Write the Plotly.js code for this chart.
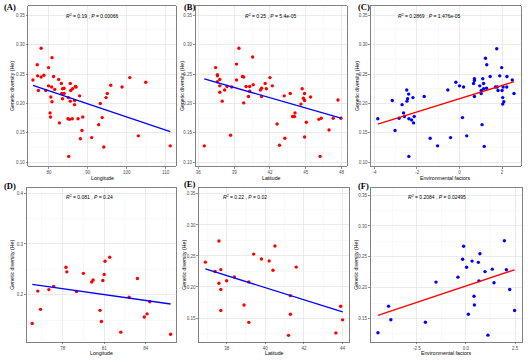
<!DOCTYPE html>
<html><head><meta charset="utf-8">
<script src="https://cdn.plot.ly/plotly-3.0.1.min.js"></script>
<style>html,body{margin:0;padding:0;background:#fff}#chart{width:532px;height:362px}</style>
</head><body><div id="chart"></div>
<script>
// ---- Panel A: Longitude vs He ----
var lonA = [75.9,77.0,77.1,77.3,78.0,78.0,78.7,79.2,79.9,79.9,80.3,80.4,80.8,80.7,80.5,80.8,81.2,81.5,82.5,82.7,83.2,83.3,83.5,83.9,83.5,83.9,84.9,85.1,85.3,85.5,85.6,85.5,85.0,86.1,86.0,86.8,87.0,86.6,86.6,87.5,87.9,88.1,88.5,88.7,91.0,94.1,92.8,93.2,93.7,94.7,95.0,95.9,98.8,100.8,103.0,104.9,111.2];
var heA  = [0.240,0.266,0.247,0.222,0.294,0.245,0.248,0.222,0.261,0.230,0.184,0.177,0.278,0.228,0.211,0.203,0.246,0.224,0.241,0.167,0.234,0.217,0.225,0.226,0.208,0.217,0.174,0.110,0.173,0.234,0.222,0.204,0.210,0.225,0.174,0.229,0.228,0.205,0.198,0.174,0.213,0.140,0.154,0.177,0.142,0.126,0.164,0.200,0.176,0.210,0.217,0.231,0.228,0.244,0.145,0.236,0.128];
var fitA_x = [75.9, 111.2], fitA_y = [0.231, 0.152];

// ---- Panel B: Latitude vs He ----
var latB = [36.5,37.45,37.6,37.6,37.6,37.8,37.8,37.8,38.0,38.2,38.4,38.7,38.8,39.2,39.2,39.4,39.7,39.8,39.8,40.0,40.2,40.3,40.3,40.55,40.6,41.2,41.3,41.3,41.6,41.7,42.0,42.2,42.6,42.8,43.2,43.25,43.7,43.9,44.0,44.1,44.05,44.6,44.7,44.8,44.9,44.9,44.9,45.05,45.4,46.1,46.3,46.2,46.95,47.3,47.7,47.95];
var heB  = [0.128,0.261,0.249,0.247,0.237,0.241,0.230,0.219,0.204,0.223,0.229,0.146,0.228,0.267,0.240,0.294,0.246,0.245,0.201,0.229,0.212,0.221,0.229,0.279,0.232,0.223,0.212,0.226,0.234,0.225,0.244,0.230,0.165,0.129,0.213,0.141,0.217,0.178,0.178,0.184,0.178,0.199,0.225,0.209,0.143,0.217,0.205,0.168,0.211,0.173,0.175,0.110,0.155,0.175,0.206,0.175];
var fitB_x = [36.5, 47.95], fitB_y = [0.242, 0.175];

// ---- Panel C: Environmental factors vs He ----
var envC = [-3.84,-3.16,-3.03,-2.84,-2.70,-2.63,-2.59,-2.48,-2.47,-2.44,-2.39,-2.38,-2.38,-2.25,-2.19,-2.16,-2.13,-1.66,-1.38,-1.03,-0.55,-0.42,-0.17,0.0,0.14,0.19,0.34,0.66,0.70,0.70,0.70,0.95,1.02,1.02,1.06,1.09,1.13,1.13,1.16,1.22,1.27,1.28,1.44,1.69,1.75,1.77,1.81,1.89,1.98,2.0,2.03,2.03,2.08,2.05,2.23,2.22,2.48,2.56];
var heC  = [0.174,0.205,0.154,0.175,0.198,0.184,0.178,0.223,0.204,0.208,0.216,0.174,0.110,0.172,0.210,0.167,0.178,0.212,0.141,0.128,0.223,0.142,0.236,0.230,0.176,0.228,0.145,0.234,0.242,0.239,0.212,0.230,0.217,0.222,0.164,0.242,0.225,0.234,0.127,0.277,0.226,0.266,0.246,0.228,0.293,0.228,0.222,0.247,0.261,0.222,0.210,0.199,0.203,0.228,0.246,0.228,0.240,0.217];
var fitC_x = [-3.84, 2.56], fitC_y = [0.165, 0.237];

// ---- Panel D: Longitude vs He ----
var lonD = [75.8,76.2,76.4,77.0,77.35,78.24,78.3,79.0,79.5,80.1,80.2,80.7,80.8,80.9,81.0,81.06,81.4,82.2,82.8,83.4,83.9,84.1,84.3,85.8];
var heD  = [0.143,0.207,0.171,0.210,0.216,0.254,0.245,0.206,0.242,0.225,0.229,0.169,0.147,0.228,0.240,0.266,0.274,0.126,0.195,0.232,0.156,0.162,0.186,0.122];
var fitD_x = [75.8, 85.8], fitD_y = [0.2204, 0.1816];

// ---- Panel E: Latitude vs He ----
var latE = [36.9,37.4,37.6,37.6,37.7,37.7,37.7,38.0,38.4,38.9,39.15,39.15,39.4,39.8,40.2,40.4,40.5,41.2,41.3,41.3,41.6,43.65,43.9,44.0];
var heE  = [0.240,0.225,0.274,0.206,0.228,0.196,0.162,0.210,0.216,0.171,0.208,0.143,0.253,0.245,0.242,0.227,0.266,0.122,0.186,0.156,0.232,0.126,0.169,0.147];
var fitE_x = [36.9, 44.0], fitE_y = [0.229, 0.160];

// ---- Panel F: Environmental factors vs He ----
var envF = [-4.49,-3.95,-3.83,-2.07,-1.53,-0.41,-0.17,-0.12,0.03,0.12,0.31,0.41,0.43,0.63,0.66,0.71,0.97,1.12,1.34,1.43,1.96,2.06,2.23,2.48];
var heF  = [0.127,0.170,0.148,0.144,0.209,0.217,0.246,0.267,0.233,0.157,0.243,0.186,0.172,0.241,0.211,0.255,0.226,0.123,0.230,0.208,0.276,0.229,0.197,0.163];
var fitF_x = [-4.49, 2.48], fitF_y = [0.155, 0.229];

// ---- tick labels ----
var yTickTop = ['0.10','0.15','0.20','0.25','0.30','0.35'];
var yTickD   = ['0.2','0.3','0.4'];
var yTickEF  = ['0.15','0.20','0.25','0.30','0.35'];
var xTickA = ['80','90','100','110'];
var xTickB = ['36','39','42','45','48'];
var xTickC = ['-4','-2','0','2'];
var xTickD = ['78','81','84'];
var xTickE = ['38','40','42','44'];
var xTickF = ['-2.5','0.0','2.5'];

var stats = [
  ['0.19','0.00066'], ['0.25','5.4e-05'], ['0.2869','1.476e-05'],
  ['0.081','0.24'], ['0.22','0.02'], ['0.2084','0.02495']
];
var panelLabels = ['(A)','(B)','(C)','(D)','(E)','(F)'];
var xTitles = ['Longitude','Latitude','Environmental factors','Longitude','Latitude','Environmental factors'];
var yTitle = 'Genetic diversity (He)';

var W = 532, H = 362;
function px(x){return x/W;}
function py(y){return 1 - y/H;}

// panel boxes in pixels [left, right, top, bottom]
var boxes = [
  [28.3,175.7,6,166],[195.7,346.7,6,166],[371,520.7,6,166],
  [26.7,176,187.7,341.7],[199,349,187.7,341.7],[370.7,522,187.7,341.7]
];
var xr = [[74.7,112.6],[35.78,48.43],[-4.16,2.875],[75.4,86.19],[36.57,44.33],[-4.86,2.857]];
var yr = [[0.0937,0.3658],[0.0937,0.3658],[0.0937,0.3658],[0.1072,0.411],[0.1118,0.360],[0.1124,0.362]];
var xtv = [xTickA,xTickB,xTickC,xTickD,xTickE,xTickF];
var ytv = [yTickTop,yTickTop,yTickTop,yTickD,yTickEF,yTickEF];
var xminor = [[5,75],[1.5,34.5],[1,-5],[1.5,73.5],[1,35],[1.25,-6.25]];
var yminor = [[0.025,0.075],[0.025,0.075],[0.025,0.075],[0.05,0.05],[0.025,0.075],[0.025,0.075]];
var statX = [92, 270, 429, 89, 245, 437];

var xs = [lonA,latB,envC,lonD,latE,envF];
var ys = [heA,heB,heC,heD,heE,heF];
var fx = [fitA_x,fitB_x,fitC_x,fitD_x,fitE_x,fitF_x];
var fy = [fitA_y,fitB_y,fitC_y,fitD_y,fitE_y,fitF_y];
var ptCol = ['#ff0000','#ff0000','#0000ff','#ff0000','#ff0000','#0000ff'];
var lnCol = ['#0000ff','#0000ff','#ff0000','#0000ff','#0000ff','#ff0000'];

var data = [], annotations = [];
var layout = {
  width: W, height: H, margin:{l:0,r:0,t:0,b:0},
  paper_bgcolor:'#fff', plot_bgcolor:'#fff', showlegend:false,
  font:{family:'Liberation Sans, Arial, sans-serif', color:'#000'}
};
var labelY = [[7.5,7.5,7.5],[185.5,184,185.5]];
var labelX = [1.5,181.5,355.5];
var ytX = [12,182,357,12,184,356];

for (var i=0;i<6;i++){
  var s = i===0?'':String(i+1);
  var b = boxes[i];
  var common = {
    showline:true, mirror:true, linecolor:'#4d4d4d', linewidth:0.7,
    ticks:'outside', ticklen:2, tickwidth:0.6, tickcolor:'#4d4d4d',
    tickfont:{size:4.5, color:'#4d4d4d', family:'Liberation Sans, Arial, sans-serif'},
    showgrid:true, gridcolor:'#e6e6e6', gridwidth:0.7, zeroline:false,
    tickmode:'array', automargin:false, fixedrange:true
  };
  var xa = Object.assign({}, common, {
    domain:[px(b[0]),px(b[1])], range:xr[i], anchor:'y'+s,
    tickvals: xtv[i].map(Number), ticktext: xtv[i],
    minor:{tickmode:'linear', dtick:xminor[i][0], tick0:xminor[i][1], showgrid:true, gridcolor:'#f3f3f3', gridwidth:0.5, ticks:''}
  });
  var ya = Object.assign({}, common, {
    domain:[py(b[3]),py(b[2])], range:yr[i], anchor:'x'+s,
    tickvals: ytv[i].map(Number), ticktext: ytv[i],
    minor:{tickmode:'linear', dtick:yminor[i][0], tick0:yminor[i][1], showgrid:true, gridcolor:'#f3f3f3', gridwidth:0.5, ticks:''}
  });
  layout['xaxis'+s] = xa;
  layout['yaxis'+s] = ya;

  data.push({type:'scatter', mode:'markers', x:xs[i], y:ys[i], xaxis:'x'+s, yaxis:'y'+s,
    marker:{color:ptCol[i], size:3.4}, hoverinfo:'skip'});
  data.push({type:'scatter', mode:'lines', x:fx[i], y:fy[i], xaxis:'x'+s, yaxis:'y'+s,
    line:{color:lnCol[i], width:1.3}, hoverinfo:'skip'});

  var row = i<3?0:1, col = i%3;
  annotations.push({xref:'paper', yref:'paper', x:px(labelX[col]), y:py(labelY[row][col]),
    xanchor:'left', yanchor:'middle', showarrow:false, text:'<b>'+panelLabels[i]+'</b>',
    font:{family:'Liberation Serif, Times New Roman, serif', size:8.5, color:'#000'}});
  annotations.push({xref:'paper', yref:'paper', x:px(statX[i]), y:py(b[2]+9.5),
    xanchor:'center', yanchor:'middle', showarrow:false,
    text:'<i>R</i><sup>2</sup> = '+stats[i][0]+' , <i>P</i> = '+stats[i][1],
    font:{size:5, color:'#000'}});
  annotations.push({xref:'paper', yref:'paper', x:px((b[0]+b[1])/2), y:py(b[3]+11.5),
    xanchor:'center', yanchor:'middle', showarrow:false, text:xTitles[i],
    font:{size:5.2, color:'#000'}});
  annotations.push({xref:'paper', yref:'paper', x:px(ytX[i]), y:py((b[2]+b[3])/2),
    xanchor:'center', yanchor:'middle', showarrow:false, text:yTitle, textangle:-90,
    font:{size:5.2, color:'#000'}});
}
layout.annotations = annotations;
Plotly.newPlot('chart', data, layout, {staticPlot:true, displayModeBar:false});
</script></body></html>
